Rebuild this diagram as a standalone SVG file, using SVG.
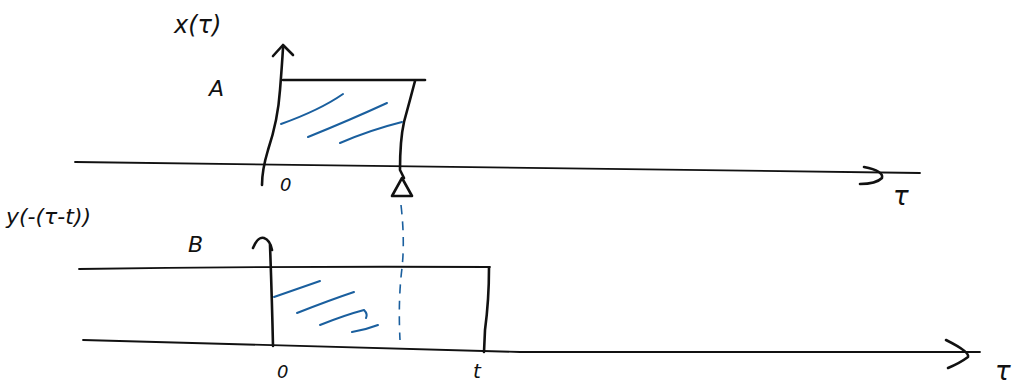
<svg xmlns="http://www.w3.org/2000/svg" width="1033" height="385" viewBox="0 0 1033 385">
<style>
.ink{fill:none;stroke:#111;stroke-width:2.6;stroke-linecap:round;stroke-linejoin:round}
.thin{fill:none;stroke:#111;stroke-width:1.8;stroke-linecap:round}
.blue{fill:none;stroke:#1a5f9e;stroke-width:2;stroke-linecap:round}
.dash{fill:none;stroke:#1a5f9e;stroke-width:1.6;stroke-dasharray:9 7}
.lbl{font-family:"DejaVu Sans",sans-serif;fill:#111;font-style:italic}
</style>
<rect width="1033" height="385" fill="#fff"/>
<g id="top-plot">
  <path class="thin" d="M75,162 L920,173"/>
  <path class="ink" d="M864,167 Q884,171 882,178 Q876,184 860,184"/>
  <text class="lbl" x="893" y="205" font-size="26">τ</text>
  <path class="ink" d="M262,185 Q262,170 268,150 Q278,120 280,90 Q282,65 283,48"/>
  <path class="ink" d="M273,56 L283,45 L293,55"/>
  <text class="lbl" x="174" y="33" font-size="24">x(τ)</text>
  <text class="lbl" x="209" y="96" font-size="22">A</text>
  <path class="ink" d="M283,80 L425,80"/>
  <path class="ink" d="M415,81 Q410,100 404,122 Q400,140 400,170 L404,178"/>
  <path class="ink" d="M402,178 L392,196 L412,196 Z"/>
  <text class="lbl" x="280" y="191" font-size="18">0</text>
  <path class="blue" d="M281,124 Q320,110 343,94"/>
  <path class="blue" d="M308,137 Q350,120 387,103"/>
  <path class="blue" d="M340,143 Q370,130 402,122"/>
</g>
<g id="bottom-plot">
  <path class="thin" d="M79,269 Q280,266 490,267"/>
  <path class="thin" d="M83,340 Q300,346 520,352 L980,352"/>
  <path class="ink" d="M946,340 Q970,352 968,357 Q960,363 948,368"/>
  <text class="lbl" x="995" y="380" font-size="26">τ</text>
  <path class="ink" d="M273,346 Q272,300 270,245"/>
  <path class="ink" d="M253,248 Q258,236 264,238 Q270,240 272,250"/>
  <text class="lbl" x="188" y="252" font-size="22">B</text>
  <path class="ink" d="M489,268 Q489,300 485,330 L484,352"/>
  <text class="lbl" x="277" y="378" font-size="18">0</text>
  <text class="lbl" x="473" y="378" font-size="20">t</text>
  <text class="lbl" x="6" y="224" font-size="22">y(-(τ-t))</text>
  <path class="dash" d="M401,205 Q405,240 402,268 Q398,300 400,340"/>
  <path class="blue" d="M274,297 Q300,288 320,281"/>
  <path class="blue" d="M297,313 Q330,300 354,292"/>
  <path class="blue" d="M320,325 Q345,315 364,310 Q368,314 366,318"/>
  <path class="blue" d="M352,332 Q365,330 378,325"/>
</g>
</svg>
